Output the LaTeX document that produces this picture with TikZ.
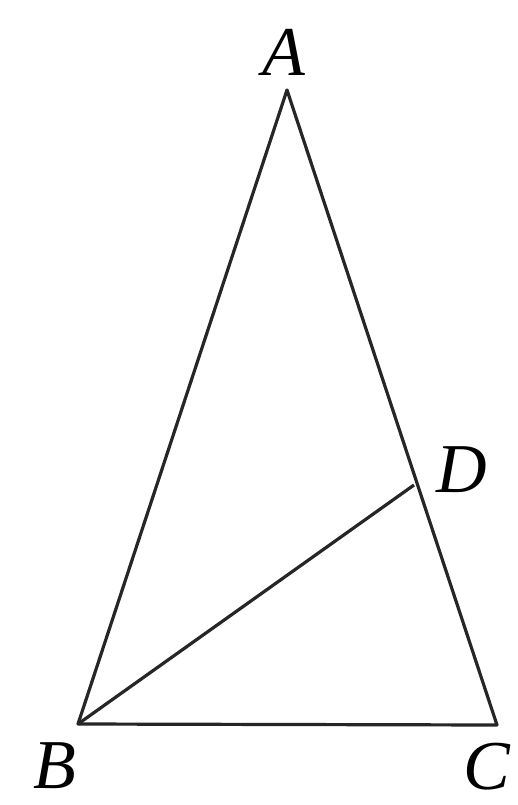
\documentclass[tikz,border=0pt]{standalone}
\usepackage{fontspec}
\setmainfont{Liberation Serif}
\begin{document}
\begin{tikzpicture}[x=1pt,y=-1pt,
  edge/.style={line width=3.2pt, draw=black!85, line join=round},
  lbl/.style={font=\fontsize{70}{74}\selectfont\itshape, inner sep=0pt}]
\useasboundingbox (0,0) rectangle (518,805);
\coordinate (A) at (287,90);
\coordinate (B) at (78,724);
\coordinate (C) at (497,725);
\coordinate (D) at (414,485);
\draw[edge] (A) -- (B) -- (C) -- cycle;
\draw[edge] (B) -- (D);
\node[lbl] (la) at (284,52) {A};
\node[lbl] (lb) at (55,766) {B};
\node[lbl] (lc) at (487,767) {C};
\node[lbl] (ld) at (462,470) {D};
\end{tikzpicture}
\end{document}
